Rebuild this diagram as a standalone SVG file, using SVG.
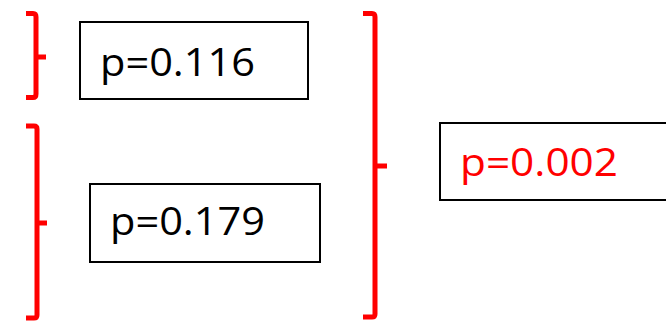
<svg xmlns="http://www.w3.org/2000/svg" width="666" height="321" viewBox="0 0 666 321">
<style>
.box{fill:#fff;stroke:#000;stroke-width:2}
.br{fill:none;stroke:#ff0000;stroke-width:5;stroke-linejoin:round}
.t{font-family:"Open Sans","Noto Sans",sans-serif;font-size:39px;fill:#000}
.red{fill:#ff0000}
</style>
<rect width="666" height="321" fill="#fff"/>
<g id="connectors">
<path class="br" d="M26,13.5 H33 Q36,13.5 36,17 V94 Q36,97.5 33,97.5 H26 M36,57 H46"/>
<path class="br" d="M26,126 H34 Q37,126 37,129 V315 Q37,318 34,318 H26 M37,223 H47"/>
<path class="br" d="M363,13.5 H372 Q375,13.5 375,17 V314 Q375,317 372,317 H363 M375,166 H387"/>
</g>
<g id="node1">
<rect class="box" x="80" y="22" width="228" height="77"/>
<text class="t" x="100" y="76" textLength="155" lengthAdjust="spacingAndGlyphs">p=0.116</text>
</g>
<g id="node2">
<rect class="box" x="90" y="184" width="230" height="78"/>
<text class="t" x="110" y="235" textLength="155" lengthAdjust="spacingAndGlyphs">p=0.179</text>
</g>
<g id="node3">
<rect class="box" x="440" y="123" width="240" height="77"/>
<text class="t red" x="460" y="176" textLength="158" lengthAdjust="spacingAndGlyphs">p=0.002</text>
</g>
</svg>
